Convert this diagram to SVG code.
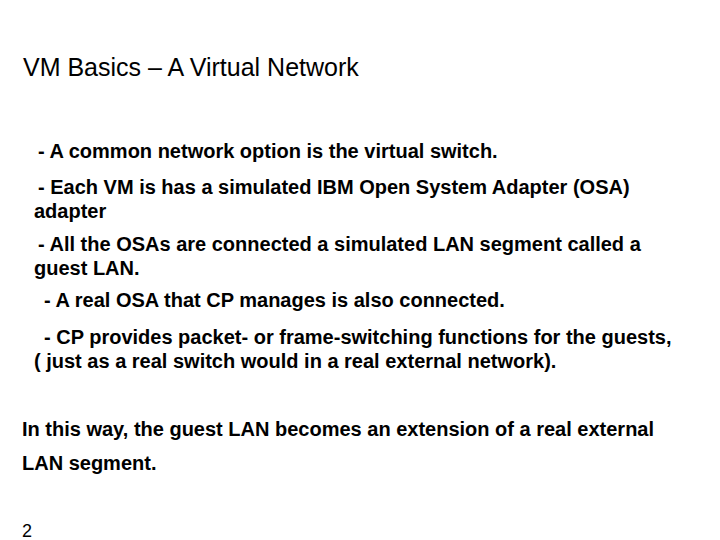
<svg xmlns="http://www.w3.org/2000/svg" width="720" height="540" viewBox="0 0 720 540">
<style>
text{font-family:"Liberation Sans",Arial,sans-serif;fill:#000}
.t{font-size:25px}
.b{font-size:20px;font-weight:bold}
.n{font-size:18px}
</style>
<rect width="720" height="540" fill="#fff"/>
<text class="t" x="23" y="76">VM Basics – A Virtual Network</text>
<text class="b" x="38" y="158">- A common network option is the virtual switch.</text>
<text class="b" x="38" y="194">- Each VM is has a simulated IBM Open System Adapter (OSA)</text>
<text class="b" x="34" y="218">adapter</text>
<text class="b" x="38" y="251">- All the OSAs are connected a simulated LAN segment called a</text>
<text class="b" x="34" y="275">guest LAN.</text>
<text class="b" x="44" y="307">- A real OSA that CP manages is also connected.</text>
<text class="b" x="44" y="344">- CP provides packet- or frame-switching functions for the guests,</text>
<text class="b" x="34" y="368">( just as a real switch would in a real external network).</text>
<text class="b" x="22" y="436">In this way, the guest LAN becomes an extension of a real external</text>
<text class="b" x="22" y="470">LAN segment.</text>
<text class="n" x="22" y="537">2</text>
</svg>
